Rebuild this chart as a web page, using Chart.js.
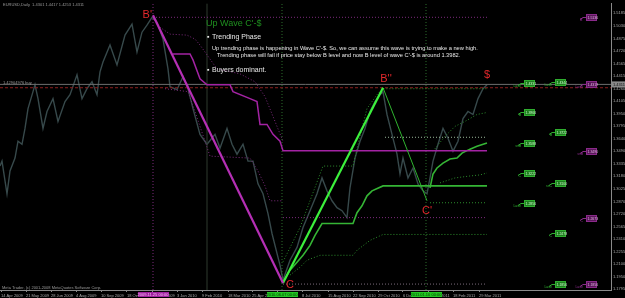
<!DOCTYPE html>
<html>
<head>
<meta charset="utf-8">
<script src="https://cdn.jsdelivr.net/npm/chart.js@4.4.1/dist/chart.umd.min.js"></script>
<style>
  html, body { margin: 0; padding: 0; background: #000; overflow: hidden; }
</style>
</head>
<body>
<canvas id="chart" width="625" height="298"></canvas>
<script>
// EURUSD daily, x = bar number on the chart
const priceBars = [0, 2, 7, 10, 15, 18, 22, 25, 28, 33, 35, 38, 43, 47, 53, 58, 65, 70, 77, 82, 87, 92, 97, 100, 103, 110, 117, 125, 132, 137, 142, 147, 152, 157, 163, 168, 170, 177, 183, 188, 193, 200, 207, 215, 220, 227, 232, 237, 243, 248, 253, 258, 263, 268, 272, 277, 280, 283, 290, 297, 303, 310, 317, 322, 327, 332, 337, 342, 347, 350, 355, 360, 365, 370, 375, 380, 383, 387, 392, 397, 400, 403, 408, 413, 418, 423, 427, 430, 433, 438, 443, 448, 453, 458, 463, 468, 473, 478, 483, 487];
const priceClose = [1.3307, 1.3368, 1.2966, 1.3246, 1.3405, 1.3612, 1.3575, 1.3770, 1.4014, 1.4222, 1.4307, 1.4136, 1.3770, 1.3978, 1.4136, 1.3856, 1.4100, 1.4185, 1.4429, 1.4136, 1.4258, 1.4344, 1.4185, 1.4466, 1.4587, 1.4795, 1.4551, 1.4917, 1.5051, 1.4709, 1.4953, 1.5039, 1.5136, 1.5075, 1.4868, 1.4502, 1.4283, 1.4246, 1.4405, 1.4258, 1.4014, 1.3697, 1.3575, 1.3697, 1.3527, 1.3770, 1.3575, 1.3453, 1.3575, 1.3368, 1.3368, 1.3088, 1.2966, 1.2722, 1.2478, 1.2234, 1.2088, 1.1905, 1.2149, 1.2307, 1.2551, 1.2758, 1.2966, 1.3161, 1.3002, 1.2880, 1.2795, 1.2758, 1.2673, 1.3039, 1.3405, 1.3612, 1.3770, 1.3978, 1.4100, 1.4185, 1.4222, 1.3941, 1.3697, 1.3453, 1.3210, 1.3405, 1.3161, 1.3283, 1.3088, 1.3002, 1.2966, 1.3161, 1.3368, 1.3575, 1.3770, 1.3649, 1.3490, 1.3612, 1.3892, 1.3978, 1.3941, 1.4136, 1.4258, 1.4307];

// wave points B' -> C -> B'' -> C' -> $
const waveNames = ["B'", "C", "B''", "C'", "$"];
const waveBars = [153, 283, 383, 427, 487];
const wavePrices = [1.5161, 1.1868, 1.4270, 1.2880, 1.4307];

// magenta trailing levels of the down wave
const magStepBars = [173, 190, 193, 200, 207, 230, 233, 250, 257, 260, 267, 273, 280, 283, 487];
const magStepPrices = [1.4685, 1.4685, 1.4612, 1.4380, 1.4307, 1.4307, 1.4222, 1.4136, 1.4100, 1.3819, 1.3819, 1.3697, 1.3612, 1.3495, 1.3495];
const magUpperBars = [153, 160, 170, 187, 195, 200, 217, 240, 255, 265, 275, 283];
const magUpperPrices = [1.5136, 1.5014, 1.4929, 1.4917, 1.4868, 1.4795, 1.4502, 1.4441, 1.4344, 1.4161, 1.3856, 1.3612];
const magLowerBars = [165, 188, 195, 205, 210, 250, 258, 265, 270, 283];
const magLowerPrices = [1.4258, 1.4222, 1.3978, 1.3612, 1.3429, 1.3405, 1.3246, 1.3063, 1.2880, 1.2880];

// green trailing levels of the up waves
const grnStepBars = [283, 290, 297, 303, 310, 315, 322, 353, 357, 362, 367, 372, 383, 487];
const grnStepPrices = [1.1880, 1.2027, 1.2124, 1.2210, 1.2332, 1.2454, 1.2600, 1.2600, 1.2734, 1.2819, 1.2941, 1.3002, 1.3063, 1.3063];
const grnStep2Bars = [430, 433, 437, 443, 450, 457, 462, 470, 477, 487];
const grnStep2Prices = [1.3039, 1.3210, 1.3283, 1.3344, 1.3393, 1.3405, 1.3466, 1.3515, 1.3551, 1.3590];
const grnUpperBars = [283, 300, 310, 323, 353, 358, 367, 377, 383, 487];
const grnUpperPrices = [1.2130, 1.2551, 1.2880, 1.3307, 1.3307, 1.3575, 1.4014, 1.4185, 1.4258, 1.4258];
const grnLowerBars = [290, 300, 307, 320, 353, 357, 370, 383, 487];
const grnLowerPrices = [1.1966, 1.2063, 1.2149, 1.2210, 1.2210, 1.2271, 1.2393, 1.2466, 1.2466];
const grnUp2Bars = [433, 445, 455, 465, 477, 487];
const grnUp2Prices = [1.3490, 1.3673, 1.3795, 1.3856, 1.3941, 1.3966];
const grnLow2Bars = [440, 455, 470, 480, 487];
const grnLow2Prices = [1.3100, 1.3161, 1.3185, 1.3198, 1.3222];

// horizontal levels: [from bar, to bar, price]
const levelBLine = [153, 487, 1.5136];
const levelMid = [385, 487, 1.3661];
const levelCp = [430, 487, 1.2856];
const levelMag = [283, 487, 1.2673];
const levelC = [283, 487, 1.1856];
const bidPrice = 1.4311;
const redLevel = 1.4270;

// vertical time lines
const vlineBars = [153, 207, 282, 426];
const vlineDates = ['2009.11.25 00:00', '', '2010.06.07 00:00', '2011.01.10 00:00'];

// right side price tags
const tagBars = [524, 524, 524, 524, 524, 555, 555, 555, 555, 555, 586, 586, 586, 586, 586];
const tagPrices = [1.4331, 1.3966, 1.3588, 1.3222, 1.2856, 1.4344, 1.3722, 1.3100, 1.2478, 1.1856, 1.5136, 1.4319, 1.3490, 1.2673, 1.1856];
const tagNames = ['Lase', 'B', 'ssB', 'C', 'Lase', 'Lase', 'B', 'ssC', 'C', 'Lase', "B'", 'Lase', 'ssB', 'C', 'Lase'];
const tagGreen = [1, 1, 1, 1, 1, 1, 1, 1, 1, 1, 0, 0, 0, 0, 0];

// axes
const dateTickBars = [1, 26, 51, 76, 101, 127, 152, 177, 202, 228, 252, 277, 302, 328, 353, 378, 403, 428, 453, 479];
const dateTickLabels = ['14 Apr 2009', '21 May 2009', '28 Jun 2009', '4 Aug 2009', '10 Sep 2009', '18 Oct 2009', '24 Nov 2009', '3 Jan 2010', '9 Feb 2010', '18 Mar 2010', '25 Apr 2010', '1 Jun 2010', '8 Jul 2010', '15 Aug 2010', '22 Sep 2010', '29 Oct 2010', '6 Dec 2010', '12 Jan 2011', '18 Feb 2011', '29 Mar 2011'];
const priceTicks = [1.5185, 1.5030, 1.4875, 1.4720, 1.4565, 1.4415, 1.4260, 1.4105, 1.3950, 1.3795, 1.3640, 1.3490, 1.3335, 1.3180, 1.3025, 1.2870, 1.2720, 1.2565, 1.2410, 1.2255, 1.2100, 1.1950, 1.1795];
const yMin = 1.1783, yMax = 1.5307, xMax = 611;

const FONT = 'Liberation Sans';

function pts(bars, prices) {
  return bars.map((b, i) => ({ x: b, y: prices[i] }));
}

function line(data, color, width, dash) {
  return { data: data, borderColor: color, borderWidth: width, borderDash: dash || [], pointRadius: 0, fill: false, tension: 0 };
}

function level(l, color, dash) {
  return line([{ x: l[0], y: l[2] }, { x: l[1], y: l[2] }], color, 1, dash);
}

const dot = [1, 2];
const datasets = [
  line(pts(waveBars.slice(0, 2), wavePrices.slice(0, 2)), '#b52fb5', 2.2),
  line(pts(waveBars.slice(1, 3), wavePrices.slice(1, 3)), '#3cf03c', 2.2),
  line(pts(waveBars.slice(2, 4), wavePrices.slice(2, 4)), '#2fb42f', 1),
  line(pts(magStepBars, magStepPrices), '#a323a3', 1.5),
  line(pts(grnStepBars, grnStepPrices), '#35b535', 1.6),
  line(pts(grnStep2Bars, grnStep2Prices), '#35b535', 1.6),
  line(pts(magUpperBars, magUpperPrices), '#7c2a7c', 1, dot),
  line(pts(magLowerBars, magLowerPrices), '#7c2a7c', 1, dot),
  line(pts(grnUpperBars, grnUpperPrices), '#2c8c2c', 1, dot),
  line(pts(grnLowerBars, grnLowerPrices), '#2c8c2c', 1, dot),
  line(pts(grnUp2Bars, grnUp2Prices), '#2c8c2c', 1, dot),
  line(pts(grnLow2Bars, grnLow2Prices), '#2c8c2c', 1, dot),
  level(levelBLine, '#7c2a7c', dot),
  level(levelMid, '#9ab89a', dot),
  level(levelCp, '#2c8c2c', dot),
  level(levelMag, '#7c2a7c', dot),
  level(levelC, '#7a6a7a', dot),
  level([0, xMax, bidPrice], '#6e6e6e'),
  level([0, xMax, redLevel], '#8c1e1e', [3, 2]),
  line([{ x: vlineBars[0], y: yMin }, { x: vlineBars[0], y: yMax }], '#7c2a7c', 1, dot),
  line([{ x: vlineBars[1], y: yMin }, { x: vlineBars[1], y: yMax }], '#2e3a2e', 1),
  line([{ x: vlineBars[2], y: yMin }, { x: vlineBars[2], y: yMax }], '#2c6e2c', 1, dot),
  line([{ x: vlineBars[3], y: yMin }, { x: vlineBars[3], y: yMax }], '#2c6e2c', 1, dot),
  line(pts(priceBars, priceClose), '#37494b', 1.4)
];

const overlay = {
  id: 'overlay',
  beforeDraw(chart) {
    const c = chart.ctx;
    c.save();
    c.fillStyle = '#000';
    c.fillRect(0, 0, chart.width, chart.height);
    c.restore();
  },
  afterDraw(chart) {
    const c = chart.ctx;
    const xs = chart.scales.x, ys = chart.scales.y;
    const X = v => xs.getPixelForValue(v);
    const Y = v => ys.getPixelForValue(v);
    c.save();

    // wave letters
    c.fillStyle = '#e2282c';
    c.font = '11px ' + FONT;
    c.textBaseline = 'middle';
    c.textAlign = 'right';
    c.fillText(waveNames[0], X(waveBars[0]) - 1, Y(wavePrices[0]));
    c.textAlign = 'left';
    c.fillText(waveNames[1], X(waveBars[1]) + 3, Y(wavePrices[1]) + 2);
    c.textAlign = 'center';
    c.fillText(waveNames[2], X(waveBars[2]) + 3, Y(wavePrices[2]) - 9);
    c.fillText(waveNames[3], X(waveBars[3]), Y(wavePrices[3]) + 10);
    c.fillText(waveNames[4], X(waveBars[4]), Y(wavePrices[4]) - 10);

    // comment box
    c.textAlign = 'left';
    c.fillStyle = '#1f8f1f';
    c.font = '9px ' + FONT;
    c.fillText("Up Wave C'-$", 206, 24);
    c.fillStyle = '#e8e8e8';
    c.font = '7px ' + FONT;
    c.fillText('\u25AA', 207, 37);
    c.fillText('\u25AA', 207, 70);
    c.fillText('Trending Phase', 212, 37);
    c.fillText('Buyers dominant.', 212, 70);
    c.font = '5.7px ' + FONT;
    c.fillText("Up trending phase is happening in Wave C'-$. So, we can assume this wave is trying to make a new high.", 212, 48);
    c.fillText("Trending phase will fail if price stay below B level and now B level of wave C'-$ is around 1.3982.", 217, 55);

    // small grey texts
    c.fillStyle = '#9a9a9a';
    c.font = '4px ' + FONT;
    c.fillText('EURUSD,Daily  1.4301 1.4417 1.4253 1.4311', 3, 5);
    c.fillText('1.42904976 buy', 3, Y(bidPrice) - 2);
    c.fillText('Meta Trader, (c) 2001-2008 MetaQuotes Software Corp.', 2, 288);

    // price tags
    tagBars.forEach((b, i) => {
      const px = X(b), py = Math.round(Y(tagPrices[i])) + 0.5;
      const green = tagGreen[i];
      const col = green ? '#2fae2f' : '#8a2a8a';
      c.strokeStyle = col;
      c.lineWidth = 1;
      c.beginPath();
      c.moveTo(px - 6, py + 2);
      c.lineTo(px - 3, py);
      c.lineTo(px, py);
      c.stroke();
      c.fillStyle = green ? '#1f7f1f' : '#5a175a';
      c.fillRect(px, py - 3, 11, 6);
      c.strokeRect(px + 0.5, py - 3, 10, 6);
      c.fillStyle = green ? '#c8f5c8' : '#e0b0e0';
      c.font = '3.5px ' + FONT;
      c.fillText(tagPrices[i].toFixed(4), px + 1.5, py + 0.5);
      c.fillStyle = col;
      c.textAlign = 'right';
      c.fillText(tagNames[i], px - 3, py + 3);
      c.textAlign = 'left';
    });

    // bid box on price axis
    const by = Y(bidPrice);
    c.fillStyle = '#8a8a8a';
    c.fillRect(612, by - 3, 13, 6);
    c.fillStyle = '#101010';
    c.font = '4px ' + FONT;
    c.fillText(bidPrice.toFixed(4), 613, by + 0.5);

    // time line boxes on date axis
    vlineBars.forEach((b, i) => {
      if (!vlineDates[i]) return;
      const px = X(b);
      c.fillStyle = i === 0 ? '#a020a0' : '#22c822';
      c.fillRect(px - 15, 292, 31, 5);
      c.fillStyle = i === 0 ? '#f0c0f0' : '#063806';
      c.font = '4px ' + FONT;
      c.textAlign = 'center';
      c.fillText(vlineDates[i], px, 294.6);
      c.textAlign = 'left';
    });
    c.restore();
  }
};

new Chart(document.getElementById('chart'), {
  type: 'line',
  data: { datasets: datasets },
  options: {
    responsive: false,
    animation: false,
    events: [],
    layout: { padding: { top: 1, left: 0, right: 0, bottom: 0 } },
    plugins: { legend: { display: false }, tooltip: { enabled: false } },
    scales: {
      x: {
        type: 'linear',
        min: 0,
        max: xMax,
        afterFit: s => { s.height = 8; },
        afterBuildTicks: s => { s.ticks = dateTickBars.map(v => ({ value: v })); },
        ticks: {
          autoSkip: false,
          maxRotation: 0,
          align: 'start',
          padding: 1,
          color: '#a8a8a8',
          font: { size: 4, family: FONT },
          callback: (v, i) => dateTickLabels[i]
        },
        grid: { display: true, drawOnChartArea: false, tickLength: 2, color: '#8a8a8a' },
        border: { color: '#8a8a8a' }
      },
      y: {
        type: 'linear',
        position: 'right',
        min: yMin,
        max: yMax,
        afterFit: s => { s.width = 14; },
        afterBuildTicks: s => { s.ticks = priceTicks.map(v => ({ value: v })); },
        ticks: {
          padding: 1,
          color: '#a8a8a8',
          font: { size: 4, family: FONT },
          callback: v => v.toFixed(4)
        },
        grid: { display: true, drawOnChartArea: false, tickLength: 1, color: '#8a8a8a' },
        border: { color: '#8a8a8a' }
      }
    }
  },
  plugins: [overlay]
});
</script>
</body>
</html>
